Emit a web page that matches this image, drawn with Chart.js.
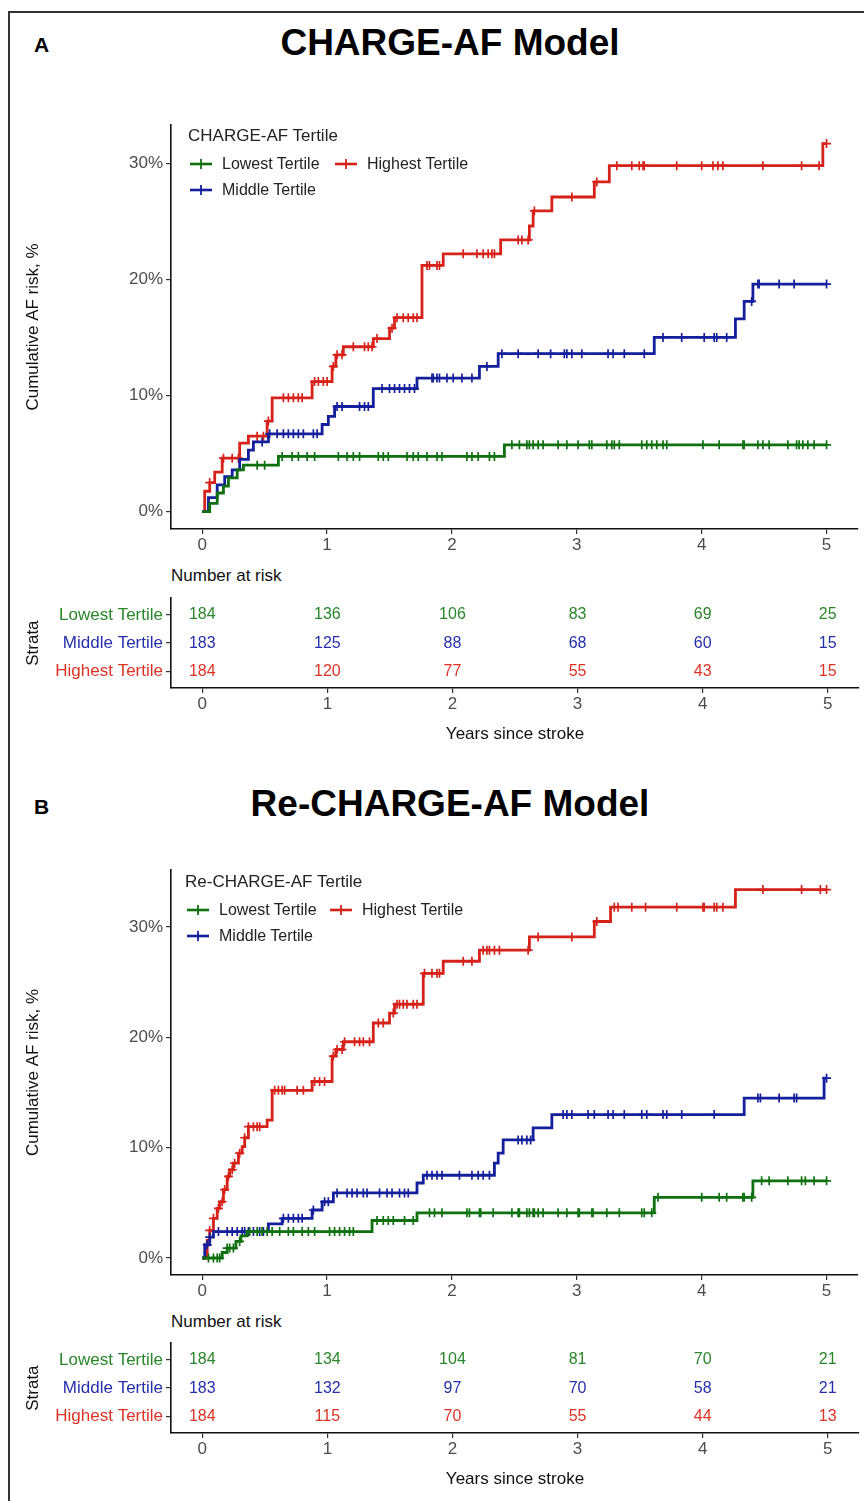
<!DOCTYPE html>
<html>
<head>
<meta charset="utf-8">
<script src="https://cdn.jsdelivr.net/npm/chart.js@4.4.1/dist/chart.umd.min.js"></script>
<style>
  body { margin: 0; background: #fff; font-family: "Liberation Sans", Arial, sans-serif; }
  #page { position: relative; width: 864px; height: 1501px; overflow: hidden; background: #fff; }
  .frame { position: absolute; left: 8px; top: 11px; right: -10px; bottom: -10px; border-left: 2px solid #333; border-top: 2px solid #333; }
  .abs { position: absolute; white-space: nowrap; }
  .letter { font-weight: bold; font-size: 21px; color: #000; }
  .title { font-weight: bold; font-size: 37px; color: #000; width: 864px; text-align: center; left: 18px; }
  .legtitle { font-size: 17px; color: #222; }
  .legitem { font-size: 16px; color: #222; display: flex; align-items: center; }
  .legitem svg { margin-right: 9px; }
  .risktitle { font-size: 17px; color: #111; }
  canvas { position: absolute; left: 0; }
</style>
</head>
<body>
<div id="page">
  <div class="frame"></div>

  <div class="abs letter" style="left:34px; top:33px;">A</div>
  <div class="abs title" style="top:22px;">CHARGE-AF Model</div>
  <canvas id="kmA" width="864" height="450" style="top:110px;"></canvas>
  <div class="abs legtitle" style="left:188px; top:126px;">CHARGE-AF Tertile</div>
  <div class="abs legitem" style="left:189px; top:155px;" id="legA1"></div>
  <div class="abs legitem" style="left:334px; top:155px;" id="legA3"></div>
  <div class="abs legitem" style="left:189px; top:181px;" id="legA2"></div>
  <div class="abs risktitle" style="left:171px; top:566px;">Number at risk</div>
  <canvas id="tabA" width="864" height="165" style="top:585px;"></canvas>

  <div class="abs letter" style="left:34px; top:795px;">B</div>
  <div class="abs title" style="top:783px;">Re-CHARGE-AF Model</div>
  <canvas id="kmB" width="864" height="451" style="top:855px;"></canvas>
  <div class="abs legtitle" style="left:185px; top:872px;">Re-CHARGE-AF Tertile</div>
  <div class="abs legitem" style="left:186px; top:901px;" id="legB1"></div>
  <div class="abs legitem" style="left:329px; top:901px;" id="legB3"></div>
  <div class="abs legitem" style="left:186px; top:927px;" id="legB2"></div>
  <div class="abs risktitle" style="left:171px; top:1312px;">Number at risk</div>
  <canvas id="tabB" width="864" height="165" style="top:1330px;"></canvas>
</div>

<script>
// Shared axis values
const timeTicks = [0, 1, 2, 3, 4, 5];
const riskTicks = [0, 10, 20, 30];
const strata = ['Lowest Tertile', 'Middle Tertile', 'Highest Tertile'];
const lineColors = ['#0f700f', '#141f9c', '#d6221a'];
const textColors = ['#2a862a', '#2630aa', '#dc3326'];

// Panel A - cumulative AF risk (%) step curves
const lowA_t = [0, 0.06, 0.12, 0.17, 0.21, 0.28, 0.33, 0.61, 2.42, 5.0];
const lowA_y = [0, 0.7, 1.6, 2.2, 2.9, 3.6, 4.0, 4.75, 5.75, 5.75];
const midA_t = [0, 0.05, 0.12, 0.18, 0.24, 0.30, 0.37, 0.41, 0.53, 0.96, 1.01, 1.06, 1.37, 1.72, 2.22, 2.37, 3.62, 4.27, 4.34, 4.41, 5.0];
const midA_y = [0, 1.2, 2.3, 3.0, 3.6, 4.5, 5.3, 6.0, 6.7, 7.5, 8.2, 9.05, 10.6, 11.5, 12.5, 13.6, 15.0, 16.6, 18.1, 19.6, 19.6];
const highA_t = [0, 0.02, 0.06, 0.10, 0.16, 0.30, 0.37, 0.52, 0.56, 0.88, 1.04, 1.07, 1.13, 1.37, 1.50, 1.54, 1.76, 1.93, 2.39, 2.62, 2.65, 2.80, 3.14, 3.26, 4.97, 5.0];
const highA_y = [0, 1.75, 2.5, 3.4, 4.6, 5.9, 6.5, 7.8, 9.8, 11.2, 12.5, 13.5, 14.2, 14.9, 15.8, 16.7, 21.2, 22.2, 23.4, 24.6, 25.9, 27.1, 28.4, 29.8, 31.7, 31.7];

// Panel A - censoring times
const lowA_cens = [0.44, 0.50, 0.64, 0.72, 0.77, 0.84, 0.90, 1.09, 1.16, 1.21, 1.26, 1.41, 1.45, 1.49, 1.64, 1.69, 1.73, 1.80, 1.88, 1.92, 2.12, 2.16, 2.21, 2.30, 2.34,
  2.48, 2.54, 2.60, 2.62, 2.65, 2.69, 2.73, 2.85, 2.92, 3.01, 3.10, 3.12, 3.24, 3.28, 3.30, 3.34, 3.52, 3.56, 3.60, 3.64, 3.69, 3.72, 4.01, 4.14, 4.33, 4.34, 4.45, 4.49, 4.54, 4.69, 4.76, 4.78, 4.81, 4.85, 4.90, 5.0];
const midA_cens = [0.48, 0.54, 0.60, 0.65, 0.69, 0.73, 0.77, 0.81, 0.89, 0.92, 1.08, 1.12, 1.26, 1.30, 1.33, 1.44, 1.50, 1.54, 1.58, 1.62, 1.66, 1.70, 1.84, 1.85, 1.88, 1.90, 1.96, 2.01, 2.08, 2.16,
  2.28, 2.40, 2.53, 2.69, 2.79, 2.90, 2.92, 2.96, 3.04, 3.25, 3.29, 3.38, 3.54, 3.69, 3.84, 4.02, 4.10, 4.12, 4.20, 4.40, 4.45, 4.46, 4.62, 4.74, 5.0];
const highA_cens = [0.06, 0.17, 0.24, 0.29, 0.44, 0.49, 0.53, 0.65, 0.69, 0.73, 0.77, 0.80, 0.90, 0.93, 0.97, 1.00, 1.05, 1.08, 1.12, 1.21, 1.30, 1.33, 1.36, 1.40, 1.52, 1.56, 1.61, 1.65, 1.69, 1.72, 1.80, 1.82, 1.88, 1.90,
  2.09, 2.20, 2.25, 2.29, 2.32, 2.34, 2.53, 2.56, 2.61, 2.66, 2.96, 3.16, 3.32, 3.44, 3.50, 3.53, 3.54, 3.80, 4.00, 4.09, 4.13, 4.17, 4.49, 4.80, 4.94, 5.0];

// Panel A - number at risk
const atRiskLowA = [184, 136, 106, 83, 69, 25];
const atRiskMidA = [183, 125, 88, 68, 60, 15];
const atRiskHighA = [184, 120, 77, 55, 43, 15];

// Panel B - cumulative AF risk (%) step curves
const lowB_t = [0, 0.16, 0.20, 0.27, 0.31, 0.36, 1.36, 1.72, 3.62, 4.41, 5.0];
const lowB_y = [0, 0.5, 0.9, 1.5, 2.0, 2.4, 3.4, 4.1, 5.5, 7.0, 7.0];
const midB_t = [0, 0.02, 0.06, 0.09, 0.53, 0.64, 0.88, 0.96, 1.05, 1.72, 1.77, 2.34, 2.37, 2.41, 2.65, 2.80, 4.34, 4.98, 5.0];
const midB_y = [0, 1.2, 1.9, 2.4, 3.1, 3.6, 4.35, 5.1, 5.9, 6.8, 7.5, 8.6, 9.5, 10.7, 11.8, 13.0, 14.5, 16.3, 16.3];
const highB_t = [0, 0.04, 0.06, 0.09, 0.12, 0.14, 0.17, 0.20, 0.22, 0.25, 0.29, 0.32, 0.34, 0.37, 0.52, 0.56, 0.88, 1.04, 1.07, 1.13, 1.37, 1.50, 1.54, 1.77, 1.93, 2.22, 2.62, 3.14, 3.27, 4.27, 5.0];
const highB_y = [0, 1.6, 2.5, 3.6, 4.5, 5.1, 6.2, 7.4, 8.0, 8.6, 9.5, 10.1, 10.9, 11.9, 12.5, 15.2, 16.0, 18.3, 18.9, 19.6, 21.3, 22.2, 23.0, 25.8, 26.9, 27.9, 29.1, 30.5, 31.8, 33.4, 33.4];

// Panel B - censoring times
const lowB_cens = [0.05, 0.09, 0.12, 0.14, 0.20, 0.22, 0.25, 0.30, 0.38, 0.44, 0.48, 0.52, 0.56, 0.62, 0.69, 0.73, 0.80, 0.85, 0.90, 1.02, 1.06, 1.10, 1.14, 1.18, 1.21, 1.40, 1.45, 1.49, 1.53, 1.62, 1.69, 1.82, 1.86, 1.92, 2.12, 2.14, 2.22, 2.23, 2.33,
  2.48, 2.53, 2.54, 2.60, 2.62, 2.65, 2.66, 2.69, 2.73, 2.85, 2.92, 3.01, 3.02, 3.12, 3.13, 3.24, 3.34, 3.52, 3.54, 3.60, 3.65, 4.00, 4.14, 4.20, 4.33, 4.34, 4.40, 4.48, 4.54, 4.69, 4.80, 4.83, 4.90, 5.0];
const midB_cens = [0.04, 0.06, 0.13, 0.20, 0.24, 0.28, 0.32, 0.34, 0.37, 0.41, 0.46, 0.49, 0.65, 0.69, 0.73, 0.77, 0.80, 0.89, 0.98, 1.01, 1.08, 1.16, 1.20, 1.24, 1.29, 1.32, 1.42, 1.48, 1.52, 1.58, 1.62, 1.65, 1.80, 1.84, 1.88, 1.92, 2.06, 2.16, 2.21, 2.25, 2.30,
  2.53, 2.56, 2.60, 2.63, 2.89, 2.92, 2.96, 3.09, 3.14, 3.25, 3.29, 3.38, 3.52, 3.56, 3.69, 3.72, 3.84, 4.10, 4.45, 4.47, 4.62, 4.74, 4.76, 5.0];
const highB_cens = [0.06, 0.09, 0.13, 0.16, 0.18, 0.21, 0.24, 0.26, 0.30, 0.34, 0.37, 0.41, 0.44, 0.46, 0.58, 0.61, 0.64, 0.66, 0.76, 0.81, 0.90, 0.94, 0.98, 1.05, 1.08, 1.12, 1.14, 1.22, 1.26, 1.29, 1.34, 1.41, 1.45, 1.53, 1.56, 1.58, 1.61, 1.64, 1.69, 1.72, 1.78, 1.84, 1.88, 1.90, 2.09, 2.16,
  2.25, 2.28, 2.30, 2.34, 2.38, 2.61, 2.69, 2.96, 3.16, 3.30, 3.33, 3.44, 3.55, 3.80, 4.01, 4.02, 4.10, 4.12, 4.17, 4.49, 4.80, 4.95, 5.0];

// Panel B - number at risk
const atRiskLowB = [184, 134, 104, 81, 70, 21];
const atRiskMidB = [183, 132, 97, 70, 58, 21];
const atRiskHighB = [184, 115, 70, 55, 44, 13];

const FONT = '"Liberation Sans", Arial, sans-serif';

// Value of a step curve at time t
function stepValue(times, values, t) {
    let v = values[0];
    for (let i = 0; i < times.length; i++) {
        if (times[i] <= t) v = values[i];
    }
    return v;
}

// Legend key: short line with a cross, like the censor marks
function legendKey(el, color, label) {
    el.innerHTML = `<svg width="24" height="12"><line x1="1" y1="6" x2="23" y2="6" stroke="${color}" stroke-width="2.6"/>` +
        `<line x1="12" y1="1" x2="12" y2="11" stroke="${color}" stroke-width="1.8"/></svg>${label}`;
}

// Kaplan-Meier style cumulative incidence chart
function kmChart(id, curves, censors, yMin, yMax, padTop) {
    const datasets = [];
    curves.forEach((c, i) => {
        datasets.push({
            data: c.t.map((t, k) => ({ x: t, y: c.y[k] })),
            borderColor: lineColors[i],
            borderWidth: 2.8,
            stepped: true,
            pointRadius: 0,
            fill: false
        });
        datasets.push({
            data: censors[i].map(t => ({ x: t, y: stepValue(c.t, c.y, t) })),
            showLine: false,
            pointStyle: 'cross',
            pointRadius: 4.5,
            pointBorderWidth: 1.7,
            borderColor: lineColors[i],
            backgroundColor: lineColors[i]
        });
    });

    return new Chart(document.getElementById(id), {
        type: 'line',
        data: { datasets: datasets },
        options: {
            responsive: false,
            animation: false,
            layout: { padding: { top: padTop, right: 5, left: 0, bottom: 0 } },
            plugins: { legend: { display: false }, tooltip: { enabled: false } },
            scales: {
                x: {
                    type: 'linear',
                    min: -0.25,
                    max: 5.25,
                    afterBuildTicks: s => { s.ticks = timeTicks.map(v => ({ value: v })); },
                    afterFit: s => { s.height = 31; },
                    ticks: { color: '#4d4d4d', font: { family: FONT, size: 17 }, padding: 1, maxRotation: 0 },
                    grid: { drawOnChartArea: false, tickLength: 5, color: '#333', lineWidth: 1.2 },
                    border: { color: '#111', width: 1.6 }
                },
                y: {
                    type: 'linear',
                    min: yMin,
                    max: yMax,
                    afterBuildTicks: s => { s.ticks = riskTicks.map(v => ({ value: v })); },
                    afterFit: s => { s.width = 171; },
                    ticks: { color: '#4d4d4d', font: { family: FONT, size: 17 }, padding: 3, callback: v => v + '%' },
                    grid: { drawOnChartArea: false, tickLength: 5, color: '#333', lineWidth: 1.2 },
                    border: { color: '#111', width: 1.6 },
                    title: {
                        display: true,
                        text: 'Cumulative AF risk, %',
                        color: '#111',
                        font: { family: FONT, size: 17 },
                        padding: { top: 23, bottom: 0 }
                    }
                }
            }
        }
    });
}

// Draws the number-at-risk values at each year
const riskNumbers = {
    id: 'riskNumbers',
    afterDatasetsDraw(chart, args, opts) {
        const ctx = chart.ctx;
        const xs = chart.scales.x;
        const ys = chart.scales.y;
        ctx.save();
        ctx.font = '16px ' + FONT;
        ctx.textAlign = 'center';
        ctx.textBaseline = 'middle';
        opts.rows.forEach((row, r) => {
            ctx.fillStyle = textColors[r];
            row.forEach((n, k) => {
                ctx.fillText(String(n), xs.getPixelForValue(timeTicks[k]), ys.getPixelForValue(3 - r));
            });
        });
        ctx.restore();
    }
};

function riskTable(id, rows, padTop) {
    return new Chart(document.getElementById(id), {
        type: 'scatter',
        data: { datasets: [{ data: [] }] },
        plugins: [riskNumbers],
        options: {
            responsive: false,
            animation: false,
            layout: { padding: { top: padTop, right: 5, left: 0, bottom: 0 } },
            plugins: { legend: { display: false }, tooltip: { enabled: false }, riskNumbers: { rows: rows } },
            scales: {
                x: {
                    type: 'linear',
                    min: -0.25,
                    max: 5.25,
                    afterBuildTicks: s => { s.ticks = timeTicks.map(v => ({ value: v })); },
                    afterFit: s => { s.height = 62; },
                    ticks: { color: '#4d4d4d', font: { family: FONT, size: 17 }, padding: 1, maxRotation: 0 },
                    grid: { drawOnChartArea: false, tickLength: 5, color: '#333', lineWidth: 1.2 },
                    border: { color: '#111', width: 1.6 },
                    title: {
                        display: true,
                        text: 'Years since stroke',
                        color: '#111',
                        font: { family: FONT, size: 17 },
                        padding: { top: 0, bottom: 5 }
                    }
                },
                y: {
                    type: 'linear',
                    min: 0.4,
                    max: 3.6,
                    afterBuildTicks: s => { s.ticks = [1, 2, 3].map(v => ({ value: v })); },
                    afterFit: s => { s.width = 171; },
                    ticks: {
                        font: { family: FONT, size: 17 },
                        padding: 3,
                        color: c => textColors[3 - c.tick.value],
                        callback: v => strata[3 - v]
                    },
                    grid: { drawOnChartArea: false, tickLength: 5, color: '#333', lineWidth: 1.2 },
                    border: { color: '#111', width: 1.6 },
                    title: {
                        display: true,
                        text: 'Strata',
                        color: '#111',
                        font: { family: FONT, size: 17 },
                        padding: { top: 23, bottom: 0 }
                    }
                }
            }
        }
    });
}

// Legends
legendKey(document.getElementById('legA1'), lineColors[0], strata[0]);
legendKey(document.getElementById('legA2'), lineColors[1], strata[1]);
legendKey(document.getElementById('legA3'), lineColors[2], strata[2]);
legendKey(document.getElementById('legB1'), lineColors[0], strata[0]);
legendKey(document.getElementById('legB2'), lineColors[1], strata[1]);
legendKey(document.getElementById('legB3'), lineColors[2], strata[2]);

// Panel A
kmChart('kmA',
    [{ t: lowA_t, y: lowA_y }, { t: midA_t, y: midA_y }, { t: highA_t, y: highA_y }],
    [lowA_cens, midA_cens, highA_cens],
    -1.5, 33.3, 15);
riskTable('tabA', [atRiskLowA, atRiskMidA, atRiskHighA], 11);

// Panel B
kmChart('kmB',
    [{ t: lowB_t, y: lowB_y }, { t: midB_t, y: midB_y }, { t: highB_t, y: highB_y }],
    [lowB_cens, midB_cens, highB_cens],
    -1.54, 35.17, 15);
riskTable('tabB', [atRiskLowB, atRiskMidB, atRiskHighB], 12);
</script>
</body>
</html>
